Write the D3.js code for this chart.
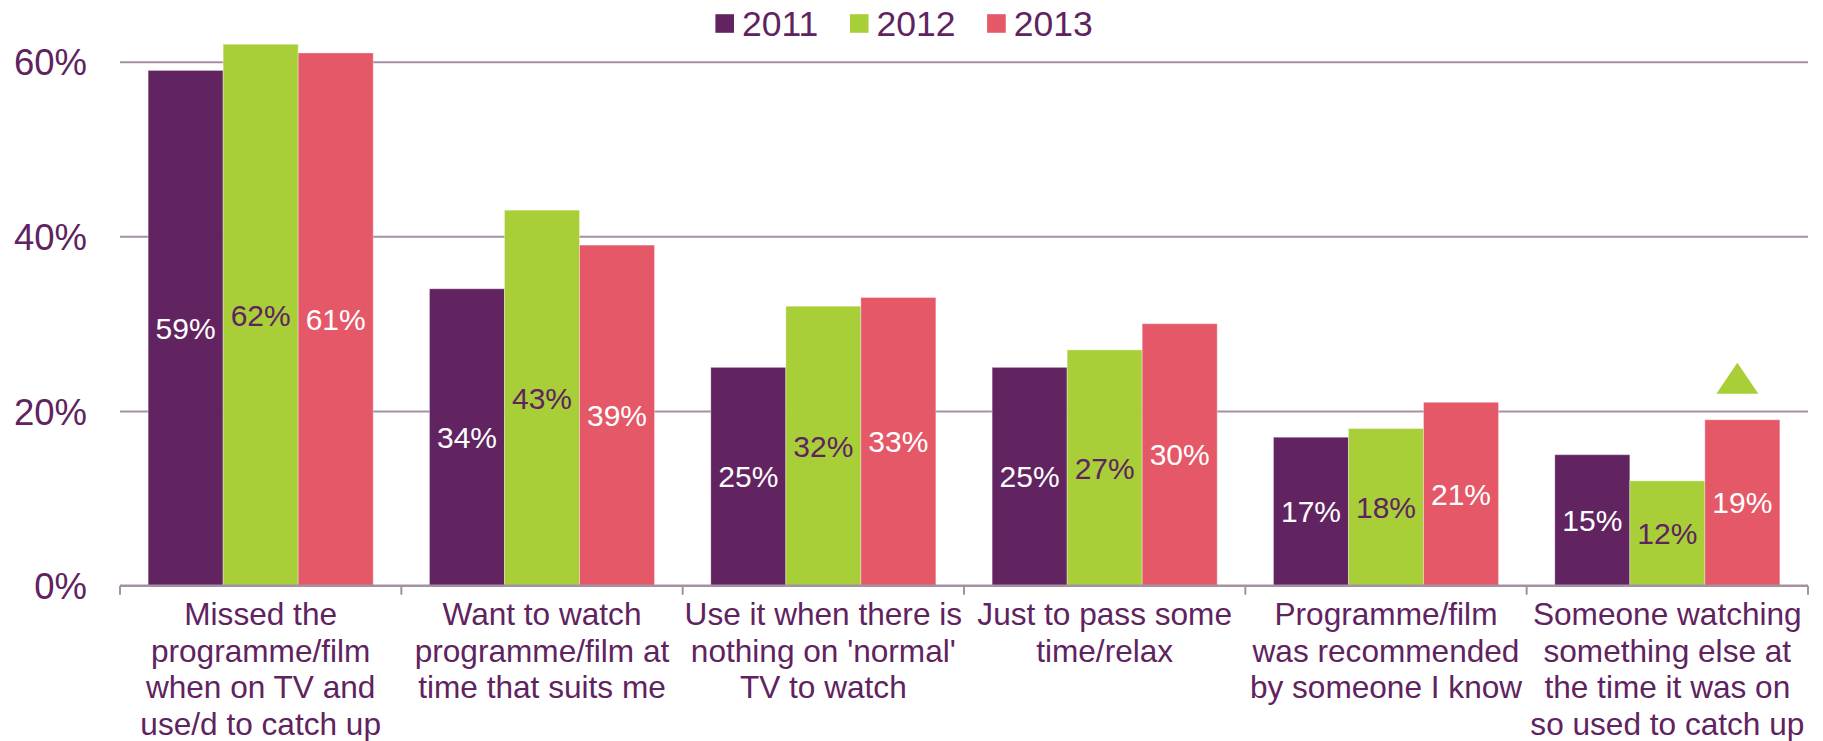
<!DOCTYPE html>
<html>
<head>
<meta charset="utf-8">
<script src="https://cdn.jsdelivr.net/npm/d3@7"></script>
<style>
  html, body { margin: 0; padding: 0; background: #fff; }
  svg { display: block; font-family: "Liberation Sans", Arial, Helvetica, sans-serif; }
</style>
</head>
<body>
<svg id="chart" width="1823" height="741"></svg>
<script>
// ---- data ----
const categories = [
  ["Missed the", "programme/film", "when on TV and", "use/d to catch up"],
  ["Want to watch", "programme/film at", "time that suits me"],
  ["Use it when there is", "nothing on 'normal'", "TV to watch"],
  ["Just to pass some", "time/relax"],
  ["Programme/film", "was recommended", "by someone I know"],
  ["Someone watching", "something else at", "the time it was on", "so used to catch up"]
];
const seriesNames = ["2011", "2012", "2013"];
const values2011 = [59, 34, 25, 25, 17, 15];
const values2012 = [62, 43, 32, 27, 18, 12];
const values2013 = [61, 39, 33, 30, 21, 19];
const yTicks = [0, 20, 40, 60];
const yTickLabels = ["0%", "20%", "40%", "60%"];
// significance marker: category index, series
const markers = [{ cat: 5, series: "2013" }];

// ---- styles ----
const colors = { "2011": "#622461", "2012": "#a8ce38", "2013": "#e55868" };
const labelColors = { "2011": "#ffffff", "2012": "#5f2360", "2013": "#ffffff" };
const textColor = "#5f2360";
const gridColor = "#a491a4";

const svg = d3.select("#chart");
const plotLeft = 120, plotRight = 1808, plotTop = 61.7, plotBottom = 585.7;

const catIdx = categories.map((d, i) => i);
const x0 = d3.scaleBand().domain(catIdx).range([plotLeft, plotRight]).paddingInner(0).paddingOuter(0);
const bw = x0.bandwidth();
const x1 = d3.scaleBand().domain(seriesNames).range([bw * 0.1, bw * 0.9]).padding(0);
const y = d3.scaleLinear().domain([0, 60]).range([plotBottom, plotTop]);

const seriesValues = { "2011": values2011, "2012": values2012, "2013": values2013 };

// gridlines + y labels
const yAxis = d3.axisLeft(y)
  .tickValues(yTicks)
  .tickSize(-(plotRight - plotLeft))
  .tickPadding(33)
  .tickFormat((d, i) => yTickLabels[i]);
const gy = svg.append("g").attr("transform", `translate(${plotLeft},0)`).call(yAxis);
gy.select(".domain").remove();
gy.selectAll(".tick line").attr("stroke", gridColor).attr("stroke-width", 2)
  .filter(d => d === 0).remove();
gy.selectAll(".tick text")
  .attr("fill", textColor)
  .style("font-size", "36.5px")
  .style("font-family", '"Liberation Sans", Arial, sans-serif')
  .attr("dy", null)
  .attr("y", 36.5 * 0.358);

// bars
const groups = svg.append("g").selectAll("g")
  .data(catIdx).join("g")
  .attr("transform", i => `translate(${x0(i)},0)`);

groups.selectAll("rect")
  .data(i => seriesNames.map(s => ({ s, v: seriesValues[s][i] })))
  .join("rect")
  .attr("x", d => x1(d.s))
  .attr("width", x1.bandwidth())
  .attr("y", d => y(d.v))
  .attr("height", d => y(0) - y(d.v))
  .attr("fill", d => colors[d.s])
  .attr("stroke", "#ffffff")
  .attr("stroke-opacity", 0.35)
  .attr("stroke-width", 1);

// value labels
groups.selectAll("text.val")
  .data(i => seriesNames.map(s => ({ s, v: seriesValues[s][i] })))
  .join("text")
  .attr("class", "val")
  .attr("x", d => x1(d.s) + x1.bandwidth() / 2)
  .attr("y", d => (y(d.v) + y(0)) / 2 + 30 * 0.358)
  .attr("text-anchor", "middle")
  .attr("fill", d => labelColors[d.s])
  .style("font-size", "30px")
  .text(d => d.v + "%");

// x axis baseline + ticks
const boundaries = catIdx.map(i => x0(i)).concat([x0(catIdx[catIdx.length - 1]) + bw]);
svg.append("line")
  .attr("x1", plotLeft).attr("x2", plotRight)
  .attr("y1", y(0)).attr("y2", y(0))
  .attr("stroke", gridColor).attr("stroke-width", 2.5);
svg.append("g").selectAll("line")
  .data(boundaries).join("line")
  .attr("x1", d => d).attr("x2", d => d)
  .attr("y1", y(0)).attr("y2", y(0) + 9)
  .attr("stroke", gridColor).attr("stroke-width", 2);

// category labels
const catFont = 31.6, lineH = 36.7, firstBase = 625;
svg.append("g").selectAll("text")
  .data(catIdx).join("text")
  .attr("text-anchor", "middle")
  .attr("fill", textColor)
  .style("font-size", catFont + "px")
  .each(function (i) {
    const t = d3.select(this);
    categories[i].forEach((line, k) => {
      t.append("tspan")
        .attr("x", x0(i) + bw / 2)
        .attr("y", firstBase + k * lineH)
        .text(line);
    });
  });

// significance markers (triangle above bar)
markers.forEach(m => {
  const v = seriesValues[m.series][m.cat];
  const cx = x0(m.cat) + x1(m.series) + x1.bandwidth() / 2 - 5;
  const baseY = y(v) - 26;
  const w = 42, h = 31;
  svg.append("path")
    .attr("d", `M${cx - w / 2},${baseY} L${cx + w / 2},${baseY} L${cx},${baseY - h} Z`)
    .attr("fill", colors["2012"]);
});

// legend
const legend = svg.append("g");
let lx = 715.4;
const legendFont = 35.5;
seriesNames.forEach(s => {
  legend.append("rect")
    .attr("x", lx).attr("y", 14.2)
    .attr("width", 18.6).attr("height", 18.6)
    .attr("fill", colors[s]);
  const t = legend.append("text")
    .attr("x", lx + 18.6 + 8)
    .attr("y", 36)
    .attr("fill", textColor)
    .style("font-size", legendFont + "px")
    .text(s);
  const w = t.node().getComputedTextLength();
  lx = lx + 18.6 + 8 + w + 31.6;
});
</script>
</body>
</html>
